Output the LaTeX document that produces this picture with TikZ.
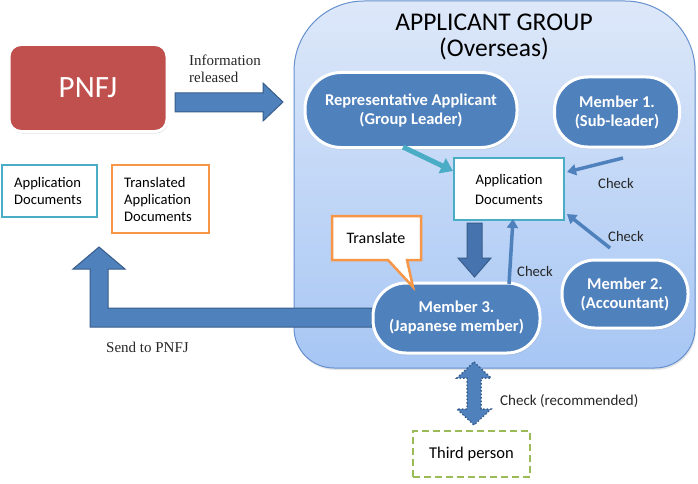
\documentclass[tikz,border=0pt]{standalone}
\usepackage{fontspec}
\setmainfont{Carlito}
\newfontfamily\tnr{Liberation Serif}
\usetikzlibrary{shadows,arrows.meta}
\definecolor{pred}{HTML}{C0504D}
\definecolor{pblue}{HTML}{4F81BD}
\definecolor{pbluedk}{HTML}{385D8A}
\definecolor{pdark}{HTML}{4673AE}
\definecolor{pteal}{HTML}{4BACC6}
\definecolor{porange}{HTML}{F79646}
\definecolor{pgreen}{HTML}{9BBB59}
\definecolor{gtop}{HTML}{DDE8F9}
\definecolor{gbot}{HTML}{A7C6F4}
\definecolor{gline}{HTML}{6590CE}
\tikzset{
  pill/.style={draw=white, line width=3pt, fill=pblue, rounded corners=33pt, inner sep=0pt,
    text=white, font=\bfseries\fontsize{16.5}{19}\selectfont, align=center,
    drop shadow={opacity=0.25, shadow xshift=1pt, shadow yshift=-2pt}},
  docbox/.style={draw, fill=white, line width=2.5pt, inner sep=0pt, align=center, text=black},
  blockarrow/.style={fill=pblue, draw=pbluedk, line width=1pt},
  checkarrow/.style={draw=pblue, line width=3.5pt, -{Triangle[length=9pt,width=11pt]}},
  lbl/.style={inner sep=0pt, font=\fontsize{14.6}{17}\selectfont, text=black!85},
  serif/.style={inner sep=0pt, font=\tnr\fontsize{15}{17}\selectfont, align=left, text=black!85}
}
\begin{document}
\begin{tikzpicture}[x=1pt, y=-1pt]
\useasboundingbox (0,0) rectangle (698,484);
% group box
\path[top color=gtop, bottom color=gbot, draw=gline, line width=1pt,
  drop shadow={opacity=0.2, shadow xshift=1pt, shadow yshift=-2pt}]
  (294,200) [rounded corners=70pt] -- (294,1) -- (695,1) -- (695,200)
  [rounded corners=40pt] -- (695,368) -- (294,368) -- cycle;
\node[font=\fontsize{25.5}{25.5}\selectfont, align=center, inner sep=0pt] (title) at (494,37) {APPLICANT GROUP\\(Overseas)};

% PNFJ
\node[draw=white, line width=3pt, fill=pred, rounded corners=12pt, minimum width=158pt, minimum height=87pt,
  text=white, font=\fontsize{31}{33}\selectfont,
  drop shadow={opacity=0.25, shadow xshift=1pt, shadow yshift=-2pt}] (pnfj) at (88,88) {PNFJ};

% information arrow
\draw[blockarrow] (175,93) -- (263,93) -- (263,83) -- (283,102) -- (263,121) -- (263,112) -- (175,112) -- cycle;
\node[serif, anchor=west] (info) at (189,69) {Information\\released};

% left documents
\node[docbox, draw=pteal, minimum width=95pt, minimum height=52pt, font=\fontsize{14.6}{17}\selectfont] (appL) at (49.5,191) {};
\node[inner sep=0pt, align=left, anchor=west, font=\fontsize{14.6}{17}\selectfont] (appLt) at (14,191) {Application\\Documents};
\node[docbox, draw=porange, minimum width=97pt, minimum height=68pt] (transL) at (160.5,199) {};
\node[inner sep=0pt, align=left, anchor=west, font=\fontsize{14.6}{17}\selectfont] (transLt) at (124,199) {Translated\\Application\\Documents};

% send to PNFJ arrow
\draw[blockarrow] (372,308) -- (108,308) -- (108,269) -- (125,269) -- (99,247) -- (73,269) -- (90,269) -- (90,327) -- (372,327) -- cycle;
\node[serif, anchor=west] (send) at (106,347) {Send to PNFJ};

% members
\node[pill, rounded corners=36pt, minimum width=212pt, minimum height=75pt] (rep) at (411,110) {Representative Applicant\\(Group Leader)};
\node[pill, minimum width=125pt, minimum height=70pt] (m1) at (617,112) {Member 1.\\(Sub-leader)};
\node[pill, minimum width=167pt, minimum height=70pt] (m3) at (456.5,318) {Member 3.\\(Japanese member)};
\node[pill, minimum width=126pt, minimum height=68pt] (m2) at (625,294) {Member 2.\\(Accountant)};

% inner documents
\node[docbox, draw=pteal, minimum width=110pt, minimum height=62pt, font=\fontsize{14.6}{20}\selectfont] (appI) at (509,189) {Application\\Documents};

% translate callout
\draw[porange, fill=white, line width=2.5pt, line join=miter]
  (332,216) -- (421,216) -- (421,260) -- (407,260) -- (413,287) -- (388,260) -- (332,260) -- cycle;
\node[font=\fontsize{16}{18}\selectfont, inner sep=0pt] (transl) at (376,238) {Translate};

% down arrow
\draw[fill=pdark, draw=pbluedk, line width=1pt] (467,223) -- (482,223) -- (482,258) -- (491,258) -- (474.5,277) -- (458,258) -- (467,258) -- cycle;

% check arrows
\coordinate (m3top) at (509,284);
\coordinate (m1s) at (623,158);
\coordinate (m2s) at (610,248);
\draw[checkarrow] (m3top) -- (513,219);
\draw[checkarrow] (m1s) -- (567,172);
\draw[checkarrow] (m2s) -- (567,214);
\draw[pteal, line width=5pt, -{Triangle[length=12pt,width=16pt]}] (403,147) -- (453,171);
\node[lbl] (c1) at (616,183) {Check};
\node[lbl] (c2) at (626,236) {Check};
\node[lbl] (c3) at (535,271) {Check};

% third person
\draw[fill=pblue, draw=pbluedk, line width=1.5pt, dotted]
  (474,362) -- (491,378) -- (481,378) -- (481,409) -- (491,409) -- (474,425) -- (457,409) -- (467,409) -- (467,378) -- (457,378) -- cycle;
\node[lbl, anchor=west, font=\fontsize{15}{17}\selectfont] (crec) at (500,401) {Check (recommended)};
\node[docbox, draw=pgreen, dash pattern=on 7pt off 4pt, minimum width=117pt, minimum height=46pt, font=\fontsize{16.5}{19}\selectfont] (third) at (471.5,454) {Third person};
\end{tikzpicture}
\end{document}
